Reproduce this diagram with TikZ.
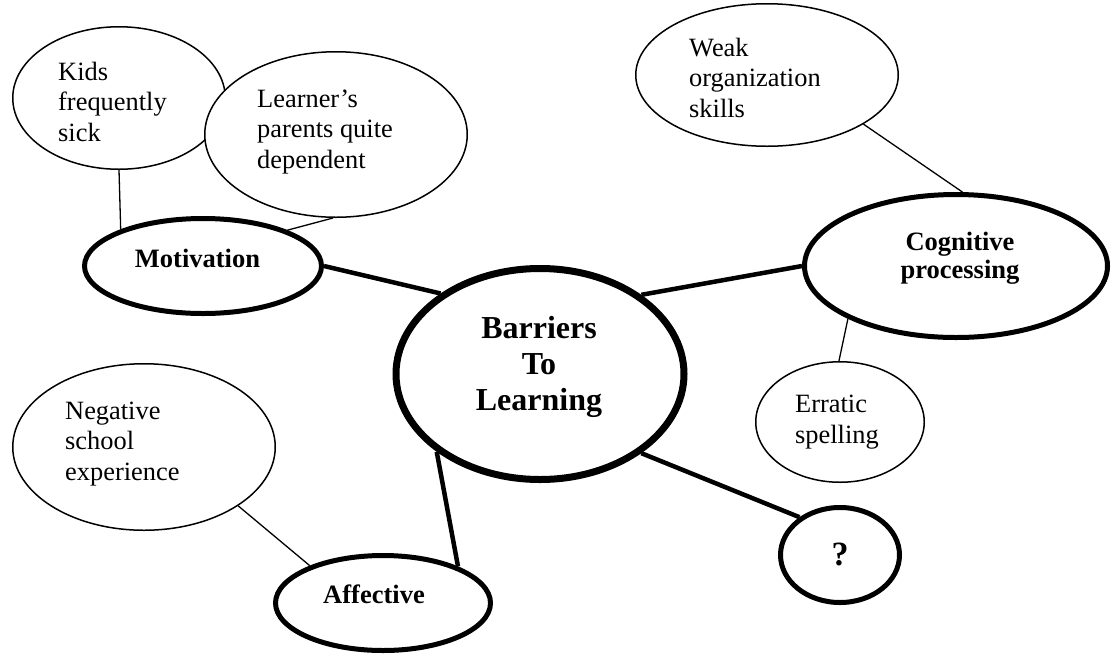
\documentclass[tikz,border=0pt]{standalone}
\usepackage{fontspec}
\setmainfont{Liberation Serif}
\usetikzlibrary{shapes.geometric}
\begin{document}
\begin{tikzpicture}[x=1pt,y=-1pt,
  thinell/.style={draw, ellipse, fill=white, line width=1.5pt, inner sep=0pt},
  thickell/.style={draw, ellipse, fill=white, line width=5pt, inner sep=0pt},
  thinline/.style={line width=1.3pt},
  thickline/.style={line width=4.5pt},
  regtext/.style={anchor=base west, align=left, inner sep=0pt, font=\fontsize{26.4}{30.5}\selectfont},
  boldtext/.style={anchor=base, align=center, inner sep=0pt, font=\fontsize{26.5}{28}\selectfont\bfseries}
]
\useasboundingbox (0,0) rectangle (1111,654);
% ellipses
\node[thinell, minimum width=212.5pt, minimum height=142.5pt] (kids) at (119,98) {};
\node[thinell, minimum width=262.5pt, minimum height=165.5pt] (learner) at (336,134.5) {};
\node[thinell, minimum width=262.5pt, minimum height=142.5pt] (weak) at (767,75) {};
\node[thinell, minimum width=262.5pt, minimum height=166.5pt] (neg) at (144,447) {};
\node[thinell, minimum width=168.5pt, minimum height=120.5pt] (err) at (840,422) {};
\node[thickell, minimum width=237pt, minimum height=95pt] (mot) at (203,266) {};
\node[thickell, line width=7pt, minimum width=288pt, minimum height=211pt] (bar) at (540,374) {};
\node[thickell, minimum width=303pt, minimum height=143pt] (cog) at (956,266) {};
\node[thickell, minimum width=119pt, minimum height=95pt] (q) at (840,555) {};
\node[thickell, minimum width=215pt, minimum height=95pt] (aff) at (383,603) {};
% connectors
\draw[thinline] (kids.south) -- (mot.156.8);
\draw[thinline] (learner.268) -- (mot.23.5);
\draw[thickline] (mot.east) -- (bar.141.8);
\draw[thickline] (bar.38.5) -- (cog.west);
\draw[thinline] (weak.-27.8) -- (cog.85.4);
\draw[thinline] (cog.206.8) -- (err.91);
\draw[thickline] (bar.-38.1) -- (q.137.9);
\draw[thickline] (bar.217.8) -- (aff.26.3);
\draw[thinline] (neg.-32.8) -- (aff.153.4);
% texts (anchor base = baseline of last line)
\node[regtext] (kidsT) at (58,141) {Kids\\frequently\\sick};
\node[regtext] (learnerT) at (257,168) {Learner’s\\parents quite\\dependent};
\node[regtext] (weakT) at (689,117) {Weak\\organization\\skills};
\node[regtext] (negT) at (65,480) {Negative\\school\\experience};
\node[regtext] (errT) at (795,443) {Erratic\\spelling};
\node[boldtext] (motT) at (197.5,267) {Motivation};
\node[boldtext] (cogT) at (960,278) {Cognitive\\processing};
\node[boldtext] (affT) at (374,603) {Affective};
\node[boldtext, font=\fontsize{34}{36}\selectfont\bfseries] (qT) at (840,565) {?};
\node[boldtext, font=\fontsize{32}{36}\selectfont\bfseries] (barT) at (539,410) {Barriers\\To\\Learning};
\end{tikzpicture}
\end{document}
